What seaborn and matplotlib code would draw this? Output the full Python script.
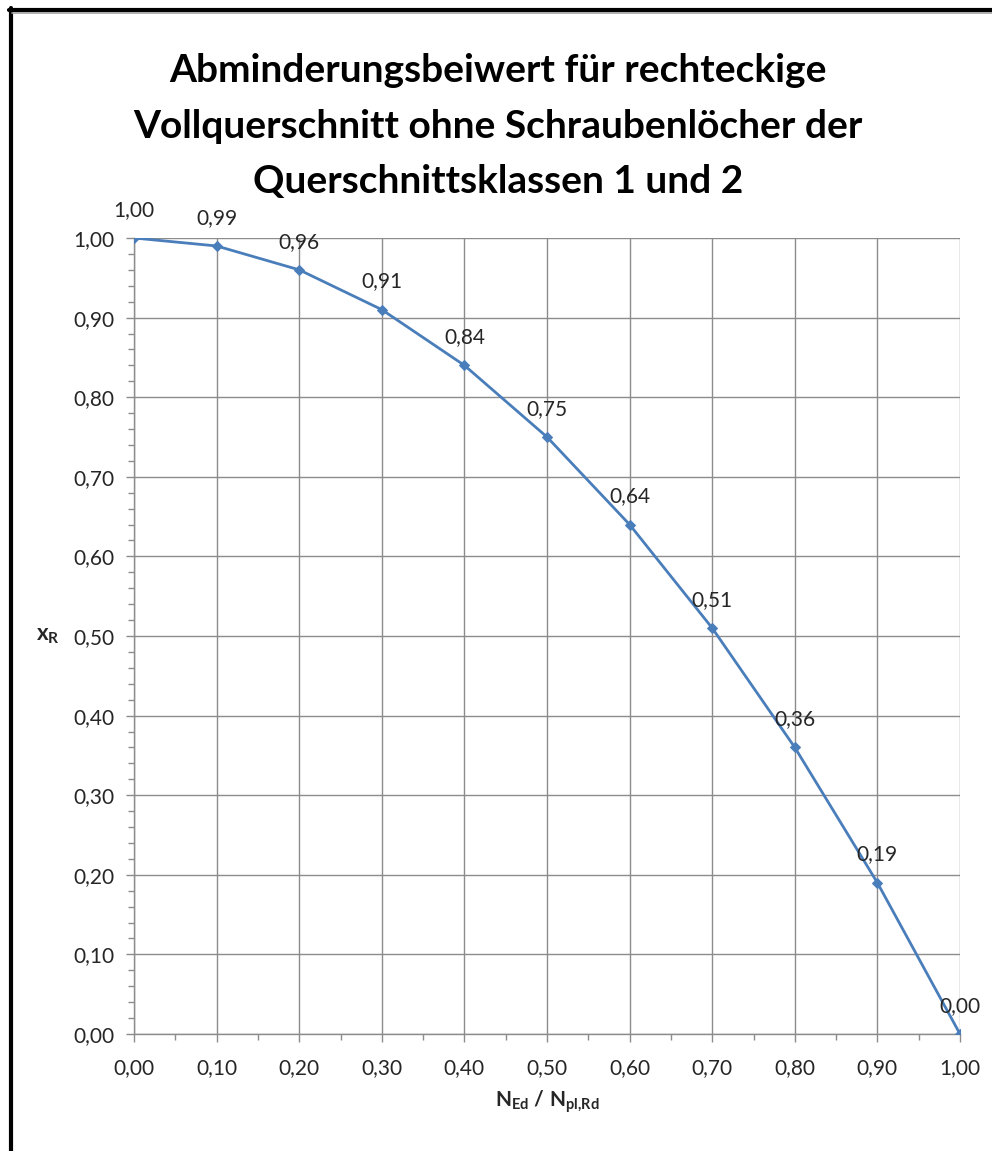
import numpy as np
import pandas as pd
import seaborn as sns
import matplotlib.pyplot as plt
from matplotlib.lines import Line2D
from matplotlib.ticker import MultipleLocator, FuncFormatter

# --- data ---
ratio = [0.0, 0.1, 0.2, 0.3, 0.4, 0.5, 0.6, 0.7, 0.8, 0.9, 1.0]
factor = [1.00, 0.99, 0.96, 0.91, 0.84, 0.75, 0.64, 0.51, 0.36, 0.19, 0.00]

title = ("Abminderungsbeiwert für rechteckige\n"
         "Vollquerschnitt ohne Schraubenlöcher der\n"
         "Querschnittsklassen 1 und 2")

df = pd.DataFrame({"ratio": ratio, "factor": factor})

sns.set_style("white")
plt.rcParams['font.family'] = ['Lato', 'DejaVu Sans']
plt.rcParams['mathtext.fontset'] = 'custom'
plt.rcParams['mathtext.rm'] = 'Lato'
plt.rcParams['mathtext.bf'] = 'Lato:bold'
plt.rcParams['mathtext.it'] = 'Lato:italic'

W, H = 992, 1151
fig = plt.figure(figsize=(W / 100, H / 100), dpi=100)
# plot area in pixels: x 134..960, y 238..1034
ax = fig.add_axes([134 / W, 1 - 1034 / H, (960 - 134) / W, (1034 - 238) / H])

blue = '#4A7EBB'
grid_col = '#8C8C8C'
text_col = '#262626'

sns.lineplot(data=df, x="ratio", y="factor", ax=ax, color=blue, linewidth=2,
             marker='D', markersize=5.5, markeredgecolor=blue, zorder=3)

# data labels above each point
for xv, yv in zip(ratio, factor):
    ax.annotate(f"{yv:.2f}".replace('.', ','), (xv, yv), xytext=(0, 16),
                textcoords='offset points', ha='center', va='baseline',
                fontsize=15, color=text_col, clip_on=False)

ax.set_xlim(0, 1)
ax.set_ylim(0, 1)
ax.xaxis.set_major_locator(MultipleLocator(0.1))
ax.xaxis.set_minor_locator(MultipleLocator(0.05))
ax.yaxis.set_major_locator(MultipleLocator(0.1))
ax.yaxis.set_minor_locator(MultipleLocator(0.02))
fmt = FuncFormatter(lambda v, p: f"{v:.2f}".replace('.', ','))
ax.xaxis.set_major_formatter(fmt)
ax.yaxis.set_major_formatter(fmt)

ax.grid(True, which='major', color=grid_col, linewidth=1)
for s in ax.spines.values():
    s.set_color(grid_col)
    s.set_linewidth(1)
ax.spines['top'].set_visible(False)
ax.spines['right'].set_visible(False)

ax.tick_params(which='major', direction='out', length=6, width=1, color=grid_col,
               labelsize=15, labelcolor=text_col)
ax.tick_params(axis='x', which='major', pad=11)
ax.tick_params(axis='y', which='major', pad=8)
ax.tick_params(which='minor', direction='out', length=4.5, width=1, color=grid_col)
ax.tick_params(axis='both', which='both', bottom=True, left=True)

ax.set_xlabel(r'$\mathbf{N}_{\mathbf{Ed}}\ \mathbf{/\ N}_{\mathbf{pl{,}Rd}}$',
              fontsize=15, color=text_col, va='center')
ax.xaxis.set_label_coords(0.5, -0.085)
ax.set_ylabel(r'$\mathbf{x}_{\mathbf{R}}$', fontsize=16, rotation=0,
              color=text_col, va='center', ha='center')
ax.yaxis.set_label_coords(-0.104, 0.5)

fig.text(498 / W, 1 - 126 / H, title, ha='center', va='center',
         fontsize=28, fontweight='bold', color='black', linespacing=1.72)

# black frame on top and left edge
fig.add_artist(Line2D([9 / W, 1], [1 - 9.5 / H, 1 - 9.5 / H],
                      transform=fig.transFigure, color='black', linewidth=3))
fig.add_artist(Line2D([10.5 / W, 10.5 / W], [0, 1 - 8 / H],
                      transform=fig.transFigure, color='black', linewidth=3))
fig.add_artist(Line2D([12 / W, 1], [1 - 12.5 / H, 1 - 12.5 / H],
                      transform=fig.transFigure, color='#A0A0A0', linewidth=1.2))

fig.savefig("out.png", dpi=100)
